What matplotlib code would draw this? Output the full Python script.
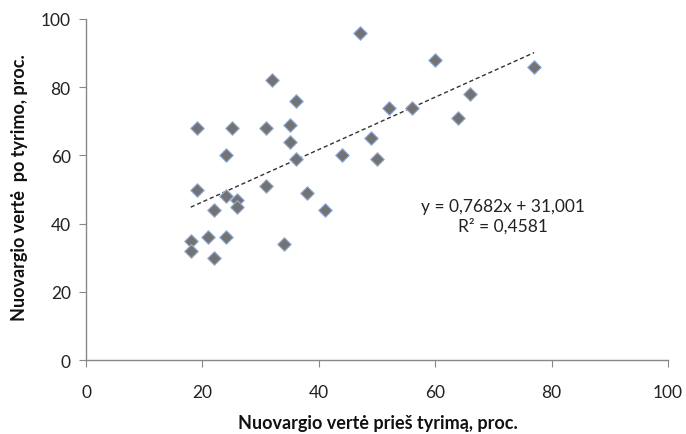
import numpy as np
import matplotlib
matplotlib.use("Agg")
import matplotlib.pyplot as plt

x_before = [47, 60, 77, 32, 36, 66, 64, 52, 56, 19, 25, 31, 35, 35, 36, 44, 49, 50, 24,
            19, 31, 38, 24, 26, 26, 22, 41, 18, 21, 24, 34, 18, 22]
y_after = [96, 88, 86, 82, 76, 78, 71, 74, 74, 68, 68, 68, 69, 64, 59, 60, 65, 59, 60,
           50, 51, 49, 48, 47, 45, 44, 44, 35, 36, 36, 34, 32, 30]
x_ticks = [0, 20, 40, 60, 80, 100]
y_ticks = [0, 20, 40, 60, 80, 100]
eq_text = "y = 0,7682x + 31,001"
r2_text = "R² = 0,4581"
xlabel = "Nuovargio vertė prieš tyrimą, proc."
ylabel = "Nuovargio vertė  po tyrimo, proc."

plt.rcParams['font.family'] = ['Lato', 'DejaVu Sans']

fig = plt.figure(figsize=(6.86, 4.35), dpi=100)
ax = fig.add_axes([86/686, 1-361/435, (668-86)/686, (361-20)/435])

ax.scatter(x_before, y_after, marker='D', s=48, facecolor='#737373',
           edgecolor='#95b0dc', linewidth=0.8, zorder=3)

xa = np.array(x_before, float)
ya = np.array(y_after, float)
m, b = np.polyfit(xa, ya, 1)
xl = np.array([xa.min(), xa.max()])
ax.plot(xl, m*xl + b, linestyle=(0, (3, 2)), color='#333333', linewidth=1.0, zorder=2)

ax.set_xlim(0, 100)
ax.set_ylim(0, 100)
ax.set_xticks(x_ticks)
ax.set_yticks(y_ticks)
for s in ['top', 'right']:
    ax.spines[s].set_visible(False)
for s in ['left', 'bottom']:
    ax.spines[s].set_color('#888888')
    ax.spines[s].set_linewidth(1.0)
ax.tick_params(axis='both', direction='out', length=5, color='#888888',
               labelsize=12.5, labelcolor='#222222')
ax.tick_params(axis='x', pad=12)
ax.tick_params(axis='y', pad=6)

ax.text(0.717, 0.453, eq_text, transform=ax.transAxes, ha='center', va='center',
        fontsize=12.5, color='#222222')
ax.text(0.717, 0.394, r2_text, transform=ax.transAxes, ha='center', va='center',
        fontsize=12.5, color='#222222')

fig.text(378/686, 1-424/435, xlabel, ha='center', va='center', fontsize=13,
         fontweight='bold', color='#111111')
fig.text(20/686, 1-188/435, ylabel, ha='center', va='center', fontsize=13,
         fontweight='bold', color='#111111', rotation=90)

fig.savefig("out.png", dpi=100)
